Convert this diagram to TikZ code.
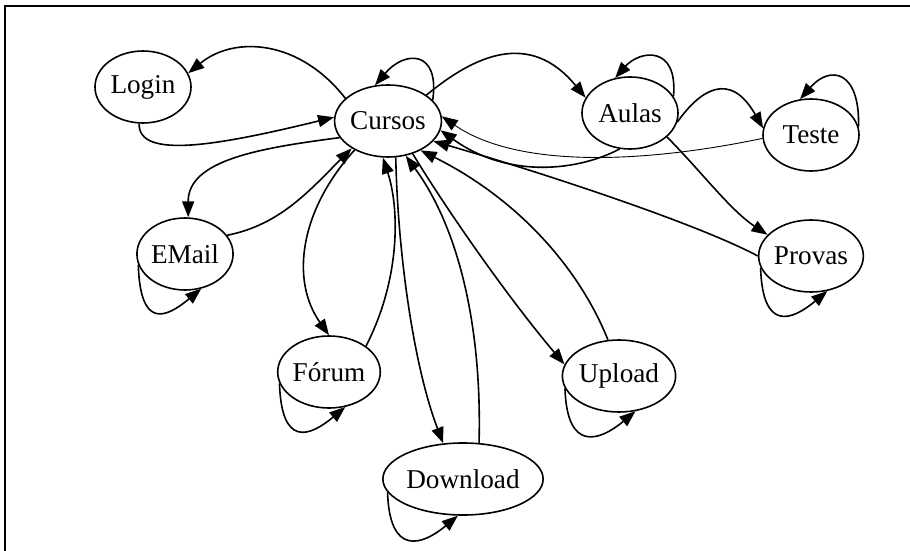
\documentclass[tikz,border=0pt]{standalone}
\usepackage{fontspec}
\setmainfont{Liberation Serif}
\usetikzlibrary{arrows.meta,shapes.geometric}
\begin{document}
\begin{tikzpicture}[x=0.5pt,y=-0.5pt,
  state/.style={ellipse,draw,line width=0.8pt,inner sep=0pt,
    minimum width=48pt,minimum height=36pt,
    font=\fontsize{13.6}{15}\selectfont},
  wide/.style={minimum width=73pt},
  link/.style={line width=0.8pt,-{Triangle[length=8pt,width=6pt]}},
  faint/.style={link,line width=0.45pt},
  loop/.style={link}]
\useasboundingbox (0,0) rectangle (910,551);
% frame
\draw[line width=1pt] (5,551) -- (5,6) -- (910,6);

% states
\node[state] (login) at (143,87) {Login};
\node[state,minimum width=49pt] (cur) at (388,121) {Cursos};
\node[state] (aulas) at (630,113) {Aulas};
\node[state] (teste) at (811,135) {Teste};
\node[state] (email) at (185,254) {EMail};
\node[state] (forum) at (329,372) {Fórum};
\node[state,wide] (down) at (463,479) {Download};
\node[state] (up) at (619,376) {Upload};
\node[state] (provas) at (811,256) {Provas};

% Cursos <-> Login
\draw[link] (cur.152) .. controls (300,40) and (235,35) .. (login.17);
\draw[link] (login.-96) .. controls (138,160) and (220,145) .. (cur.176);
% Cursos <-> EMail
\draw[link] (cur.199) .. controls (260,148) and (188,160) .. (email.85);
\draw[link] (email.24) .. controls (280,225) and (310,190) .. (cur.217);
% Cursos <-> Forum
\draw[link] (cur.221) .. controls (300,210) and (290,280) .. (forum.90);
\draw[link] (forum.35) .. controls (400,280) and (400,210) .. (cur.262);
% Cursos <-> Download
\draw[link] (cur.282) .. controls (398,260) and (415,370) .. (down.119);
\draw[link] (down.66) .. controls (482,330) and (460,230) .. (cur.297);
% Cursos <-> Upload
\draw[link] (cur.307) .. controls (450,215) and (510,300) .. (up.168);
\draw[link] (up.107) .. controls (580,270) and (520,200) .. (cur.-42);
% Provas, Aulas, Teste back to Cursos
\draw[link] (provas.180) .. controls (700,225) and (550,175) .. (cur.-24);
\draw[link] (aulas.254) .. controls (580,170) and (510,180) .. (cur.-10);
\draw[faint] (teste.184) .. controls (650,162) and (520,170) .. (cur.5);
% Cursos -> Aulas, Aulas -> Teste / Provas
\draw[link] (cur.34) .. controls (475,55) and (530,30) .. (aulas.161);
\draw[link] (aulas.-11) .. controls (700,90) and (730,70) .. (teste.172);
\draw[link] (aulas.-33) .. controls (700,170) and (730,210) .. (provas.154);

% self loops
\draw[loop] (cur.25) .. controls (440,50) and (405,50) .. (cur.110);
\draw[loop] (aulas.21) .. controls (678,45) and (640,50) .. (aulas.113);
\draw[loop] (teste.10) .. controls (860,70) and (830,65) .. (teste.107);
\draw[loop] (email.193) .. controls +(2,64) and +(-36,30) .. (email.-65);
\draw[loop] (forum.193) .. controls +(2,64) and +(-36,30) .. (forum.-65);
\draw[loop] (up.193) .. controls +(2,64) and +(-36,30) .. (up.-65);
\draw[loop] (provas.193) .. controls +(2,64) and +(-36,30) .. (provas.-65);
\draw[loop] (down.190) .. controls +(2,64) and +(-36,30) .. (down.262);
\end{tikzpicture}
\end{document}
